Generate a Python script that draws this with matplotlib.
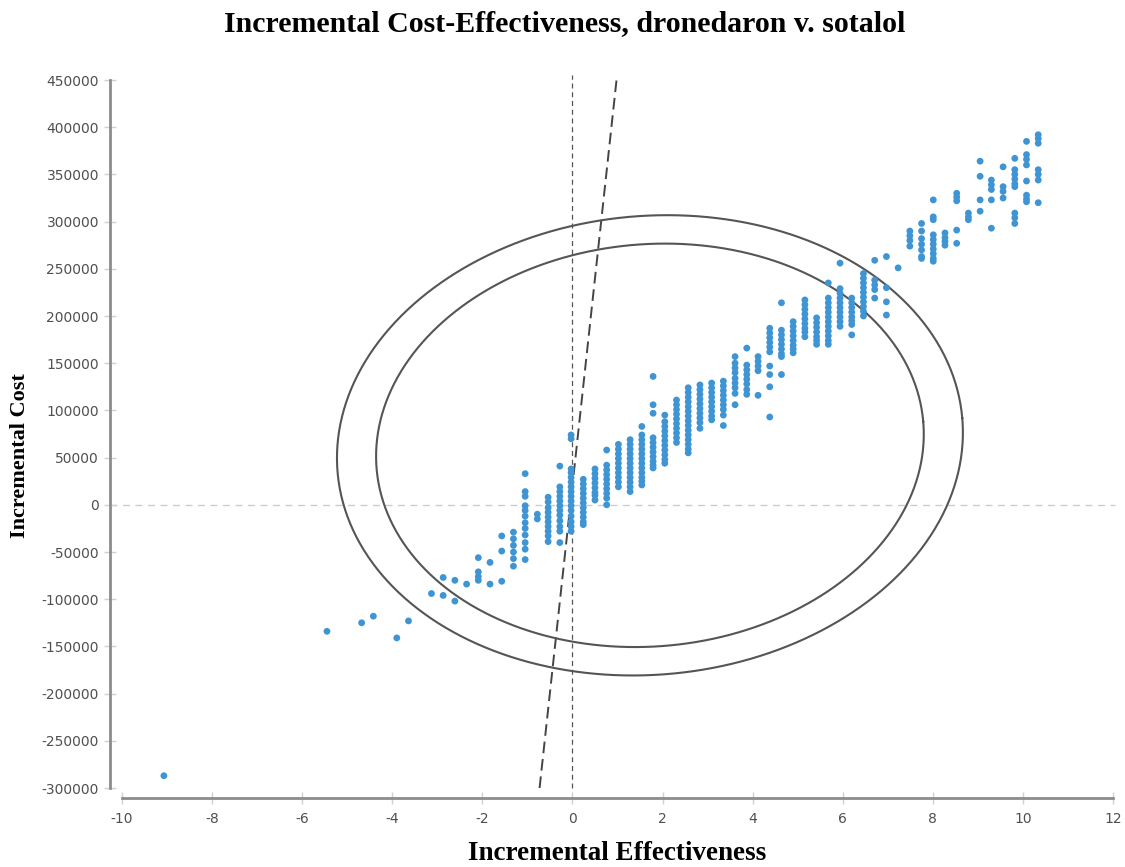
import numpy as np
import matplotlib
matplotlib.use("Agg")
import matplotlib.pyplot as plt

plt.rcParams['axes.unicode_minus'] = False

# scatter columns: x value and incremental costs (thousands)
col_x = [-9.07, -5.45, -4.68, -4.42, -3.90, -3.64, -3.13, -2.87, -2.61, -2.35,
         -2.09, -1.83, -1.57, -1.31, -1.05, -0.78, -0.54, -0.28, -0.03, 0.24,
         0.50, 0.76, 1.02, 1.28, 1.54, 1.79, 2.05, 2.31, 2.57, 2.83,
         3.09, 3.35, 3.61, 3.87, 4.12, 4.38, 4.64, 4.90, 5.16, 5.42,
         5.68, 5.94, 6.20, 6.46, 6.71, 6.97, 7.23, 7.49, 7.75, 8.01,
         8.27, 8.53, 8.79, 9.05, 9.30, 9.56, 9.82, 10.08, 10.34]
col_cost = [
    [-287], [-134], [-125], [-118], [-141], [-123], [-94], [-77, -96], [-80, -102], [-84],
    [-56, -71, -76, -80], [-61, -84], [-33, -49, -81],
    [-29, -36, -43, -50, -57, -65],
    [33, 14, 9, -1, -6, -12, -19, -25, -32, -40, -47, -58],
    [-10, -15],
    [8, 3, -3, -8, -13, -18, -23, -28, -33, -39],
    [41, 19, 14, 9, 4, -1, -6, -11, -17, -23, -28, -40],
    [74, 70, 38, 34, 29, 24, 19, 14, 9, 4, -1, -6, -12, -18, -23, -28],
    [27, 22, 17, 12, 7, 2, -3, -8, -13, -18, -21],
    [38, 33, 28, 23, 18, 13, 10, 5],
    [58, 42, 37, 32, 27, 22, 17, 12, 7, 0],
    [64, 59, 54, 49, 44, 39, 34, 29, 24, 19],
    [69, 64, 59, 54, 49, 44, 39, 34, 29, 24, 19, 14],
    [83, 74, 69, 64, 59, 54, 49, 44, 39, 34, 29, 25, 21],
    [136, 106, 97, 71, 66, 61, 56, 51, 46, 42, 39],
    [95, 88, 83, 78, 73, 68, 63, 58, 53, 48, 44],
    [111, 106, 101, 96, 91, 86, 81, 76, 71, 66],
    [124, 119, 114, 109, 104, 99, 94, 89, 84, 79, 74, 69, 64, 59, 55],
    [127, 122, 117, 112, 107, 102, 97, 92, 87, 81],
    [129, 124, 119, 114, 109, 104, 99, 94, 90],
    [131, 126, 121, 116, 111, 106, 101, 95, 84],
    [157, 150, 145, 140, 134, 129, 124, 118, 106],
    [166, 148, 143, 138, 133, 128, 122, 117],
    [157, 152, 147, 142, 116],
    [187, 182, 177, 172, 167, 162, 147, 138, 125, 93],
    [214, 185, 180, 175, 170, 165, 160, 157, 138],
    [194, 189, 184, 179, 174, 169, 165, 161],
    [217, 212, 207, 202, 197, 192, 187, 183, 178],
    [198, 193, 188, 183, 178, 174, 170],
    [235, 219, 214, 209, 204, 199, 194, 189, 184, 179, 174, 170],
    [256, 229, 224, 219, 214, 209, 204, 199, 194, 189],
    [219, 214, 209, 204, 199, 195, 191, 180],
    [245, 240, 235, 230, 225, 220, 215, 210, 205, 200],
    [259, 238, 233, 228, 219],
    [263, 230, 215, 201],
    [251],
    [290, 285, 280, 274],
    [298, 290, 282, 276, 270, 263, 261],
    [323, 305, 302, 286, 281, 276, 271, 266, 261, 258],
    [288, 283, 279, 275],
    [330, 326, 322, 291, 277],
    [309, 305, 302],
    [364, 348, 323, 311],
    [344, 339, 334, 323, 293],
    [358, 337, 332, 325],
    [367, 355, 350, 345, 340, 337, 309, 304, 298],
    [385, 371, 366, 360, 343, 328, 324, 321],
    [392, 388, 383, 355, 350, 344, 320],
]

# threshold (WTP) line and the two ellipses
wtp_x = [-0.73, 0.99]
wtp_y = [-300000, 455000]
ell_center = (1.72, 63000)
ell_outer = (6.96, 243000)
ell_inner = (6.09, 213000)
ell_tilt = 5  # degrees, on screen

x_ticks = list(range(-10, 13, 2))
y_ticks = list(range(-300000, 450001, 50000))

pts_x = np.concatenate([[x] * len(c) for x, c in zip(col_x, col_cost)])
pts_y = np.concatenate([np.array(c) * 1000 for c in col_cost])

fig = plt.figure(figsize=(11.25, 8.67), dpi=100)
ax = fig.add_axes([122 / 1125, 79 / 867, 991 / 1125, 708 / 867])

ax.set_xlim(-10, 12)
ax.set_ylim(-300000, 450000)

# y units per x unit so that the ellipse tilt is done in screen proportions
s = (50000 / 47.2) * 45.05
th = np.deg2rad(ell_tilt)
t = np.linspace(0, 2 * np.pi, 400)
for a, b in [ell_outer, ell_inner]:
    u = a * np.cos(t)
    v = (b / s) * np.sin(t)
    ex = ell_center[0] + u * np.cos(th) - v * np.sin(th)
    ey = ell_center[1] + (u * np.sin(th) + v * np.cos(th)) * s
    ax.plot(ex, ey, color='#555555', lw=1.5, zorder=2)

ax.axhline(0, xmin=-0.012, xmax=1.002, color='#cccccc', lw=1,
           ls=(0, (5, 4)), clip_on=False, zorder=1)
ax.plot([0, 0], [-300000, 455000], color='#555555', lw=0.9,
        ls=(0, (4, 3)), clip_on=False, zorder=1)
ax.plot(wtp_x, wtp_y, color='#444444', lw=1.4, ls=(0, (6, 3)),
        clip_on=False, zorder=1)

ax.scatter(pts_x, pts_y, s=24, color='#3f95d4', edgecolors='none', zorder=3)

for side in ['top', 'right']:
    ax.spines[side].set_visible(False)
ax.spines['left'].set_position(('outward', 8.6))
ax.spines['bottom'].set_position(('outward', 7.5))
for side in ['left', 'bottom']:
    ax.spines[side].set_color('#8c8c8c')
    ax.spines[side].set_linewidth(2)

ax.set_xticks(x_ticks)
ax.set_yticks(y_ticks)
ax.tick_params(axis='both', direction='inout', length=8, width=1,
               color='#d0d0d0', labelsize=10, labelcolor='#505050')
ax.tick_params(axis='y', pad=4)
ax.tick_params(axis='x', pad=6)

serif = 'Liberation Serif'
fig.text(565 / 1125, 1 - 24 / 867,
         'Incremental Cost-Effectiveness, dronedaron v. sotalol',
         ha='center', va='center', fontsize=21.5, fontweight='bold', family=serif)
fig.text(617 / 1125, 1 - 853 / 867, 'Incremental Effectiveness',
         ha='center', va='center', fontsize=19.5, fontweight='bold', family=serif)
fig.text(20 / 1125, 1 - 456 / 867, 'Incremental Cost', rotation=90,
         ha='center', va='center', fontsize=16, fontweight='bold', family=serif)

fig.savefig('out.png', dpi=100)
